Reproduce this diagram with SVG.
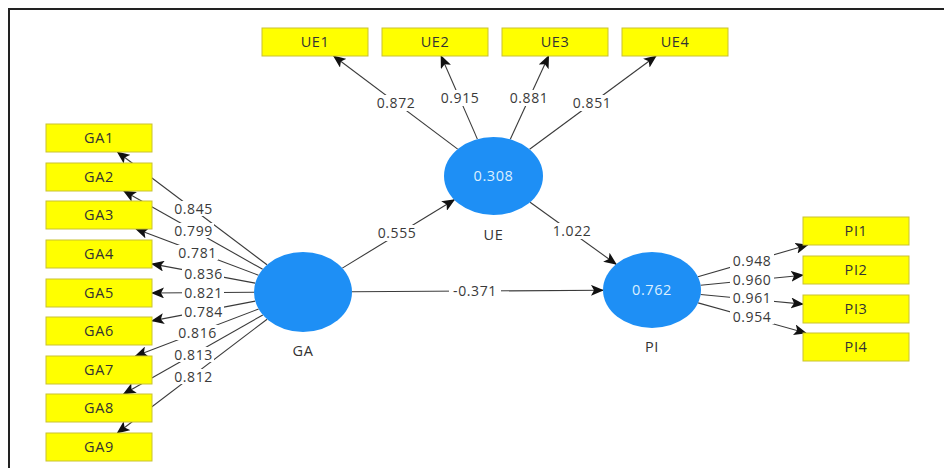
<svg xmlns="http://www.w3.org/2000/svg" width="944" height="468" viewBox="0 0 944 468">
<defs>
<style>
.box{fill:#ffff00;stroke:#c9c232;stroke-width:1}
.bt{font-family:"Open Sans","Noto Sans",sans-serif;font-size:14.5px;fill:#333;text-anchor:middle;letter-spacing:0.6px}
.lv{fill:#1e8ff5}
.ct{font-family:"Open Sans","Noto Sans",sans-serif;font-size:14.5px;fill:#dcefff;text-anchor:middle;letter-spacing:0.6px}
.nl{font-family:"Open Sans","Noto Sans",sans-serif;font-size:14.5px;fill:#333;text-anchor:middle;letter-spacing:0.6px}
.ln{stroke:#3a3a3a;stroke-width:1.1;fill:none;marker-end:url(#ah)}
.lb{font-family:"Open Sans","Noto Sans",sans-serif;font-size:14px;fill:#3a3a3a;text-anchor:middle;letter-spacing:0.6px}
.bg{fill:#fff}
</style>
<marker id="ah" markerUnits="userSpaceOnUse" markerWidth="13" markerHeight="11" refX="12" refY="5.5" orient="auto">
<path d="M0,0 L13,5.5 L0,11 L3,5.5 Z" fill="#111"/>
</marker>
</defs>
<rect x="0" y="0" width="944" height="468" fill="#fff"/>
<path d="M9,468 L9,9 L944,9" stroke="#222" stroke-width="2" fill="none"/>

<g id="connectors">
<line class="ln" x1="267" y1="264.8" x2="117.5" y2="152"/>
<line class="ln" x1="262.7" y1="269.3" x2="123.8" y2="191"/>
<line class="ln" x1="258.5" y1="275.2" x2="136.1" y2="229"/>
<line class="ln" x1="255.2" y1="283.1" x2="152" y2="263.9"/>
<line class="ln" x1="254" y1="292.3" x2="152" y2="293"/>
<line class="ln" x1="255.2" y1="301.1" x2="152" y2="320.9"/>
<line class="ln" x1="258.6" y1="309" x2="135.6" y2="356"/>
<line class="ln" x1="262.8" y1="314.9" x2="123.6" y2="394"/>
<line class="ln" x1="267.1" y1="319.2" x2="117.4" y2="433"/>
<line class="ln" x1="457.7" y1="149.1" x2="333.7" y2="56"/>
<line class="ln" x1="477.4" y1="139.1" x2="441.1" y2="56"/>
<line class="ln" x1="510.3" y1="139.3" x2="548.6" y2="56"/>
<line class="ln" x1="529.6" y1="149.3" x2="656" y2="56"/>
<line class="ln" x1="342.3" y1="268.1" x2="454.3" y2="199.8"/>
<line class="ln" x1="530.1" y1="202.3" x2="616.1" y2="264.2"/>
<line class="ln" x1="352" y1="291.7" x2="603" y2="290.3"/>
<line class="ln" x1="697.9" y1="276.7" x2="807.6" y2="245"/>
<line class="ln" x1="700.6" y1="285.2" x2="803" y2="275.2"/>
<line class="ln" x1="700.6" y1="294.5" x2="803" y2="304.1"/>
<line class="ln" x1="698.1" y1="302.9" x2="805.9" y2="333"/>
<g id="labels">
<rect class="bg" x="172" y="201" width="42" height="15"/><text class="lb" x="193.5" y="213.5">0.845</text>
<rect class="bg" x="172" y="223" width="42" height="15"/><text class="lb" x="193.5" y="235.5">0.799</text>
<rect class="bg" x="176" y="245" width="42" height="15"/><text class="lb" x="197.5" y="257.5">0.781</text>
<rect class="bg" x="182" y="266" width="42" height="15"/><text class="lb" x="203.5" y="278.5">0.836</text>
<rect class="bg" x="182" y="285" width="42" height="15"/><text class="lb" x="203.5" y="297.5">0.821</text>
<rect class="bg" x="182" y="304" width="42" height="15"/><text class="lb" x="203.5" y="316.5">0.784</text>
<rect class="bg" x="176" y="325" width="42" height="15"/><text class="lb" x="197.5" y="337.5">0.816</text>
<rect class="bg" x="172" y="347" width="42" height="15"/><text class="lb" x="193.5" y="359.5">0.813</text>
<rect class="bg" x="172" y="369" width="42" height="15"/><text class="lb" x="193.5" y="381.5">0.812</text>
<rect class="bg" x="374" y="95" width="44" height="16"/><text class="lb" x="396" y="108">0.872</text>
<rect class="bg" x="438" y="90" width="44" height="16"/><text class="lb" x="460" y="103">0.915</text>
<rect class="bg" x="507" y="90" width="44" height="16"/><text class="lb" x="529" y="103">0.881</text>
<rect class="bg" x="570" y="95" width="44" height="16"/><text class="lb" x="592" y="108">0.851</text>
<rect class="bg" x="375" y="225" width="44" height="16"/><text class="lb" x="397" y="238">0.555</text>
<rect class="bg" x="550" y="223" width="44" height="16"/><text class="lb" x="572" y="236">1.022</text>
<rect class="bg" x="449" y="283" width="52" height="16"/><text class="lb" x="475" y="296">-0.371</text>
<rect class="bg" x="730" y="253" width="44" height="15"/><text class="lb" x="752" y="265.5">0.948</text>
<rect class="bg" x="730" y="272" width="44" height="15"/><text class="lb" x="752" y="284.5">0.960</text>
<rect class="bg" x="730" y="290" width="44" height="15"/><text class="lb" x="752" y="302.5">0.961</text>
<rect class="bg" x="730" y="309" width="44" height="15"/><text class="lb" x="752" y="321.5">0.954</text>
</g>
</g>

<g id="GA1"><rect class="box" x="46" y="124" width="106" height="28"/><text class="bt" x="99" y="143">GA1</text></g>
<g id="GA2"><rect class="box" x="46" y="163" width="106" height="28"/><text class="bt" x="99" y="182">GA2</text></g>
<g id="GA3"><rect class="box" x="46" y="201" width="106" height="28"/><text class="bt" x="99" y="220">GA3</text></g>
<g id="GA4"><rect class="box" x="46" y="240" width="106" height="28"/><text class="bt" x="99" y="259">GA4</text></g>
<g id="GA5"><rect class="box" x="46" y="279" width="106" height="28"/><text class="bt" x="99" y="298">GA5</text></g>
<g id="GA6"><rect class="box" x="46" y="317" width="106" height="28"/><text class="bt" x="99" y="336">GA6</text></g>
<g id="GA7"><rect class="box" x="46" y="356" width="106" height="28"/><text class="bt" x="99" y="375">GA7</text></g>
<g id="GA8"><rect class="box" x="46" y="394" width="106" height="28"/><text class="bt" x="99" y="413">GA8</text></g>
<g id="GA9"><rect class="box" x="46" y="433" width="106" height="28"/><text class="bt" x="99" y="452">GA9</text></g>

<g id="UE1"><rect class="box" x="262" y="28" width="106" height="28"/><text class="bt" x="315" y="47">UE1</text></g>
<g id="UE2"><rect class="box" x="382" y="28" width="106" height="28"/><text class="bt" x="435" y="47">UE2</text></g>
<g id="UE3"><rect class="box" x="502" y="28" width="106" height="28"/><text class="bt" x="555" y="47">UE3</text></g>
<g id="UE4"><rect class="box" x="622" y="28" width="106" height="28"/><text class="bt" x="675" y="47">UE4</text></g>

<g id="PI1"><rect class="box" x="803" y="217" width="106" height="28"/><text class="bt" x="856" y="236">PI1</text></g>
<g id="PI2"><rect class="box" x="803" y="256" width="106" height="28"/><text class="bt" x="856" y="275">PI2</text></g>
<g id="PI3"><rect class="box" x="803" y="295" width="106" height="28"/><text class="bt" x="856" y="314">PI3</text></g>
<g id="PI4"><rect class="box" x="803" y="333" width="106" height="28"/><text class="bt" x="856" y="352">PI4</text></g>

<g id="GA"><ellipse class="lv" cx="303" cy="292" rx="49" ry="40"/><text class="nl" x="303" y="356">GA</text></g>
<g id="UE"><ellipse class="lv" cx="493.5" cy="176" rx="49.5" ry="39"/><text class="ct" x="493.5" y="181">0.308</text><text class="nl" x="493.5" y="240">UE</text></g>
<g id="PI"><ellipse class="lv" cx="652" cy="290" rx="49" ry="38"/><text class="ct" x="652" y="295">0.762</text><text class="nl" x="652" y="352">PI</text></g>
</svg>
